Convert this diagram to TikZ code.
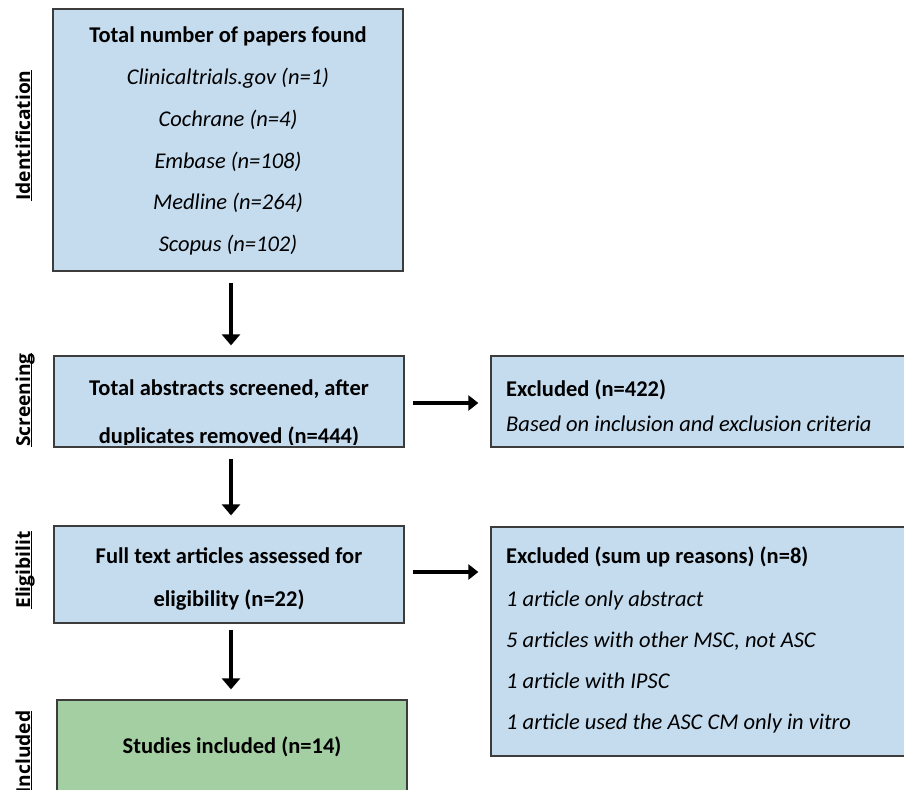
\documentclass[tikz,border=0pt]{standalone}
\usepackage{fontspec}
\setmainfont{Carlito}
\newfontfamily\stagefont{Open Sans}
\usepackage{tikz}
\usetikzlibrary{arrows.meta, positioning, calc}
\definecolor{boxblue}{HTML}{C5DCEF}
\definecolor{boxgreen}{HTML}{A3CFA2}
\definecolor{boxline}{HTML}{3C3C3C}
\newcommand{\stagename}[1]{\underline{\smash{#1}}}

\begin{document}
\begin{tikzpicture}[
  x=1pt, y=-1pt,
  box/.style={draw=boxline, line width=1.3pt, fill=boxblue, inner sep=0pt, minimum width=350pt},
  wide/.style={box, minimum width=424pt},
  txt/.style={font=\fontsize{22.5}{27}\selectfont, inner sep=0pt, anchor=base},
  hd/.style={font=\fontsize{22.5}{27}\selectfont\bfseries, inner sep=0pt, anchor=base},
  src/.style={font=\fontsize{22.5}{27}\selectfont\itshape, inner sep=0pt, anchor=base},
  stage/.style={font=\stagefont\bfseries\fontsize{19.2}{23}\selectfont, rotate=90, anchor=base, inner sep=0pt},
  dwn/.style={line width=4pt, -{Triangle[width=18pt, length=11pt]}},
  fwd/.style={line width=4pt, -{Triangle[width=15pt, length=10pt]}},
]
  \useasboundingbox (0,0) rectangle (904,789);
  \clip (0,0) rectangle (904,789);

  % ── Boxes ────────────────────────────────────────────────────────────
  \node[box, minimum height=262pt] (ID)  at (228,140)   {};
  \node[box, minimum height=91pt]  (SCR) at (229,401.5) {};
  \node[wide, minimum height=91pt] (EXA) at (703,401.5) {};
  \node[box, minimum height=97pt]  (ELI) at (229,574.5) {};
  \node[wide, minimum height=229pt] (EXF) at (703,641.5) {};
  \node[box, fill=boxgreen, minimum height=105pt] (INC) at (232,752.5) {};

  % ── Stage labels ─────────────────────────────────────────────────────
  \node[stage] (Lid)  at (30,135.5) {\stagename{Identification}};
  \node[stage] (Lscr) at (30,400)   {\stagename{Screening}};
  \node[stage] (Leli) at (30,570)   {\stagename{Eligibilit}};
  \node[stage] (Linc) at (30,752)   {\stagename{Included}};

  % ── Identification ───────────────────────────────────────────────────
  \node[hd]  (IDt) at (228,43)  {Total number of papers found};
  \node[src] (ID1) at (228,85)  {Clinicaltrials.gov (n=1)};
  \node[src] (ID2) at (228,126) {Cochrane (n=4)};
  \node[src] (ID3) at (228,168) {Embase (n=108)};
  \node[src] (ID4) at (228,209) {Medline (n=264)};
  \node[src] (ID5) at (228,251) {Scopus (n=102)};

  % ── Screening ────────────────────────────────────────────────────────
  \begin{scope}
    \clip ([yshift=3pt]SCR.south west) rectangle (SCR.north east);
    \node[hd] (SCR1) at (229,395) {Total abstracts screened, after};
    \node[hd] (SCR2) at (229,443) {duplicates removed (n=444)};
  \end{scope}
  \node[hd, anchor=base west]  (EXAt) at (506,396) {Excluded (n=422)};
  \node[src, anchor=base west] (EXA1) at (506,431) {Based on inclusion and exclusion criteria};

  % ── Eligibility ──────────────────────────────────────────────────────
  \node[hd] (ELI1) at (229,563) {Full text articles assessed for};
  \node[hd] (ELI2) at (229,606) {eligibility (n=22)};
  \node[hd, anchor=base west]  (EXFt) at (506,563) {Excluded (sum up reasons) (n=8)};
  \node[src, anchor=base west] (EXF1) at (506,606) {1 article only abstract};
  \node[src, anchor=base west] (EXF2) at (506,647) {5 articles with other MSC, not ASC};
  \node[src, anchor=base west] (EXF3) at (506,688) {1 article with IPSC};
  \node[src, anchor=base west] (EXF4) at (506,729) {1 article used the ASC CM only in vitro};

  % ── Included ─────────────────────────────────────────────────────────
  \node[hd] (INC1) at (232,753) {Studies included (n=14)};

  % ── Arrows ───────────────────────────────────────────────────────────
  \draw[dwn] ([xshift=3pt,yshift=-11pt]ID.south) -- ([xshift=2pt,yshift=10pt]SCR.north);
  \draw[dwn] ([xshift=2pt,yshift=-11pt]SCR.south) -- ([xshift=2pt,yshift=10pt]ELI.north);
  \draw[dwn] ([xshift=2pt,yshift=-6pt]ELI.south) -- ([xshift=-1pt,yshift=10pt]INC.north);
  \draw[fwd] ($(SCR.east)+(8,1.5)$) -- ($(SCR.east -| EXA.west)+(-12,1.5)$);
  \draw[fwd] ($(ELI.east)+(8,-2.5)$) -- ($(ELI.east -| EXF.west)+(-12,-2.5)$);
\end{tikzpicture}
\end{document}
